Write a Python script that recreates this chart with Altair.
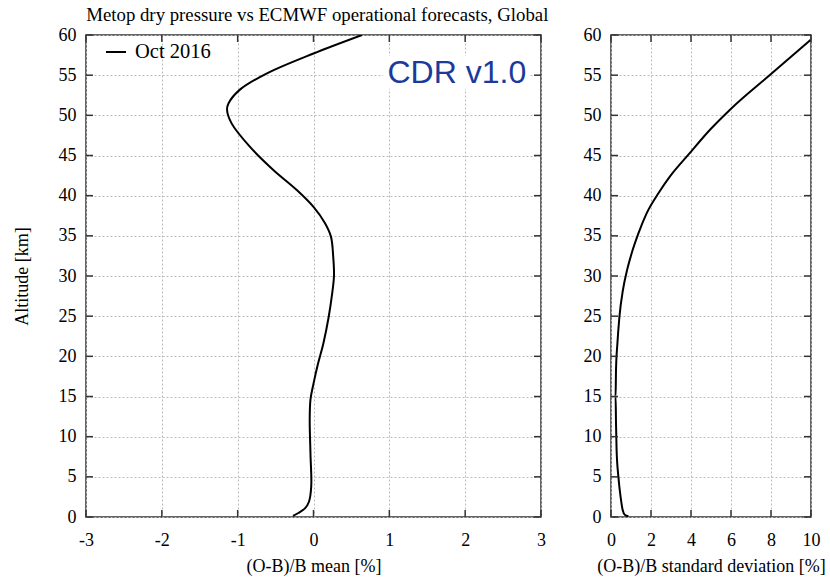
import altair as alt
import pandas as pd

# ---- data ----
mean_alt = [0.15, 0.5, 1.1, 1.9, 3.8, 7.9, 12.1, 14.6, 16.6, 19.1, 21.6, 24.9, 27.4, 30.0,
            32.4, 34.9, 36.6, 38.6, 40.7, 43.2, 46.1, 49.0, 50.7, 51.5, 53.2, 55.2, 57.7, 60.0]
mean_val = [-0.27, -0.20, -0.11, -0.06, -0.03, -0.04, -0.05, -0.04, 0.0, 0.06, 0.13, 0.20, 0.24, 0.27,
            0.26, 0.23, 0.15, 0.0, -0.22, -0.53, -0.84, -1.08, -1.14, -1.12, -0.97, -0.62, 0.0, 0.64]

sd_alt = [0.1, 0.25, 0.9, 2.5, 5.0, 8.3, 11.7, 15.0, 18.3, 21.6, 24.9, 28.3, 30.7, 32.8,
          35.3, 37.8, 40.3, 42.4, 45.1, 48.2, 50.7, 55.2, 59.4]
sd_val = [0.87, 0.70, 0.58, 0.48, 0.37, 0.28, 0.25, 0.23, 0.25, 0.32, 0.42, 0.60, 0.80, 1.03,
          1.37, 1.78, 2.37, 2.95, 3.87, 4.95, 5.95, 8.03, 9.98]

series_name = "Oct 2016"
y_ticks = [0, 5, 10, 15, 20, 25, 30, 35, 40, 45, 50, 55, 60]
mean_ticks = [-3, -2, -1, 0, 1, 2, 3]
sd_ticks = [0, 2, 4, 6, 8, 10]

title_text = "Metop dry pressure vs ECMWF operational forecasts, Global"
mean_title = "(O-B)/B mean [%]"
sd_title = "(O-B)/B standard deviation [%]"
y_title = "Altitude [km]"
anno_text = ["CDR v1.0"]
anno_x = [1.89]
anno_y = [55.3]
anno_box_x = [0.92]
anno_box_x2 = [2.86]
anno_box_y = [53.3]
anno_box_y2 = [57.4]

SERIF = "Liberation Serif"
W1, W2, H = 455, 200, 482
TL = 7
LABEL_EXPR = "'' + datum.value"

mean_df = pd.DataFrame({"x": mean_val, "y": mean_alt, "s": series_name})
sd_df = pd.DataFrame({"x": sd_val, "y": sd_alt, "s": series_name})

yscale = alt.Scale(domain=[0, 60], nice=False, zero=False)


def make_axis(values, title, **kw):
    return alt.Axis(values=values, title=title, labelExpr=LABEL_EXPR, labelOverlap=False,
                    labelFlush=False, labelSeparation=0, **kw)


def inner_ticks(xticks, xscale, xaxis, yaxis, w, h):
    xdf = pd.DataFrame({"x": xticks})
    ydf = pd.DataFrame({"y": y_ticks})
    rule = dict(color="#333333", strokeWidth=1.5)
    bx = alt.Chart(xdf).mark_rule(**rule).encode(
        x=alt.X("x:Q", scale=xscale, axis=xaxis), y=alt.value(h), y2=alt.value(h - TL))
    tx = alt.Chart(xdf).mark_rule(**rule).encode(
        x=alt.X("x:Q", scale=xscale, axis=xaxis), y=alt.value(0), y2=alt.value(TL))
    ly = alt.Chart(ydf).mark_rule(**rule).encode(
        y=alt.Y("y:Q", scale=yscale, axis=yaxis), x=alt.value(0), x2=alt.value(TL))
    ry = alt.Chart(ydf).mark_rule(**rule).encode(
        y=alt.Y("y:Q", scale=yscale, axis=yaxis), x=alt.value(w), x2=alt.value(w - TL))
    return [bx, tx, ly, ry]


# ---- left panel ----
xs1 = alt.Scale(domain=[-3, 3], nice=False, zero=False)
xax1 = make_axis(mean_ticks, mean_title)
yax1 = make_axis(y_ticks, y_title, titlePadding=27)
line1 = alt.Chart(mean_df).mark_line(interpolate="catmull-rom", strokeWidth=2, clip=True).encode(
    x=alt.X("x:Q", scale=xs1, axis=xax1),
    y=alt.Y("y:Q", scale=yscale, axis=yax1),
    order=alt.Order("y:Q"),
    color=alt.Color("s:N", scale=alt.Scale(range=["black"]),
                    legend=alt.Legend(title=None, orient="none", legendX=19, legendY=6,
                                      symbolType="stroke", symbolSize=400, symbolStrokeWidth=2,
                                      labelFont=SERIF, labelFontSize=20.5, labelColor="black",
                                      labelOffset=8, padding=0)),
)
box = alt.Chart(pd.DataFrame({"x": anno_box_x, "x2": anno_box_x2, "y": anno_box_y, "y2": anno_box_y2})).mark_rect(
    color="white").encode(
    x=alt.X("x:Q", scale=xs1, axis=xax1), x2="x2:Q",
    y=alt.Y("y:Q", scale=yscale, axis=yax1), y2="y2:Q")
anno = alt.Chart(pd.DataFrame({"x": anno_x, "y": anno_y, "t": anno_text})).mark_text(
    font="Liberation Sans", fontSize=32, color="#1a3a9c", baseline="middle", align="center").encode(
    x=alt.X("x:Q", scale=xs1, axis=xax1), y=alt.Y("y:Q", scale=yscale, axis=yax1), text="t:N")

left = alt.layer(line1, box, anno, *inner_ticks(mean_ticks, xs1, xax1, yax1, W1, H)).properties(
    width=W1, height=H)

# ---- right panel ----
xs2 = alt.Scale(domain=[0, 10], nice=False, zero=False)
xax2 = make_axis(sd_ticks, sd_title)
yax2 = make_axis(y_ticks, None)
line2 = alt.Chart(sd_df).mark_line(interpolate="monotone", orient="horizontal",
                                    strokeWidth=2, color="black", clip=True).encode(
    x=alt.X("x:Q", scale=xs2, axis=xax2),
    y=alt.Y("y:Q", scale=yscale, axis=yax2),
)
right = alt.layer(line2, *inner_ticks(sd_ticks, xs2, xax2, yax2, W2, H)).properties(width=W2, height=H)

chart = alt.hconcat(left, right, spacing=35).properties(
    title=alt.TitleParams(title_text, anchor="start", font=SERIF, fontSize=18.8, fontWeight="normal",
                          color="black", dx=74, offset=0),
    padding={"left": 12, "top": 6, "right": 2, "bottom": 2},
    background="white",
).configure_view(stroke="#333333", strokeWidth=1.5).configure_axis(
    labelFont=SERIF, labelFontSize=18, labelColor="black",
    titleFont=SERIF, titleFontSize=18, titleFontWeight="normal", titleColor="black",
    tickSize=0, domain=False, labelPadding=10, titlePadding=10,
    grid=True, gridColor="#bbbbbb", gridDash=[2, 2], gridWidth=1,
).configure_axisX(labelPadding=14, titlePadding=8)

chart.save("out.html", embed_options={"renderer": "svg", "actions": False})
